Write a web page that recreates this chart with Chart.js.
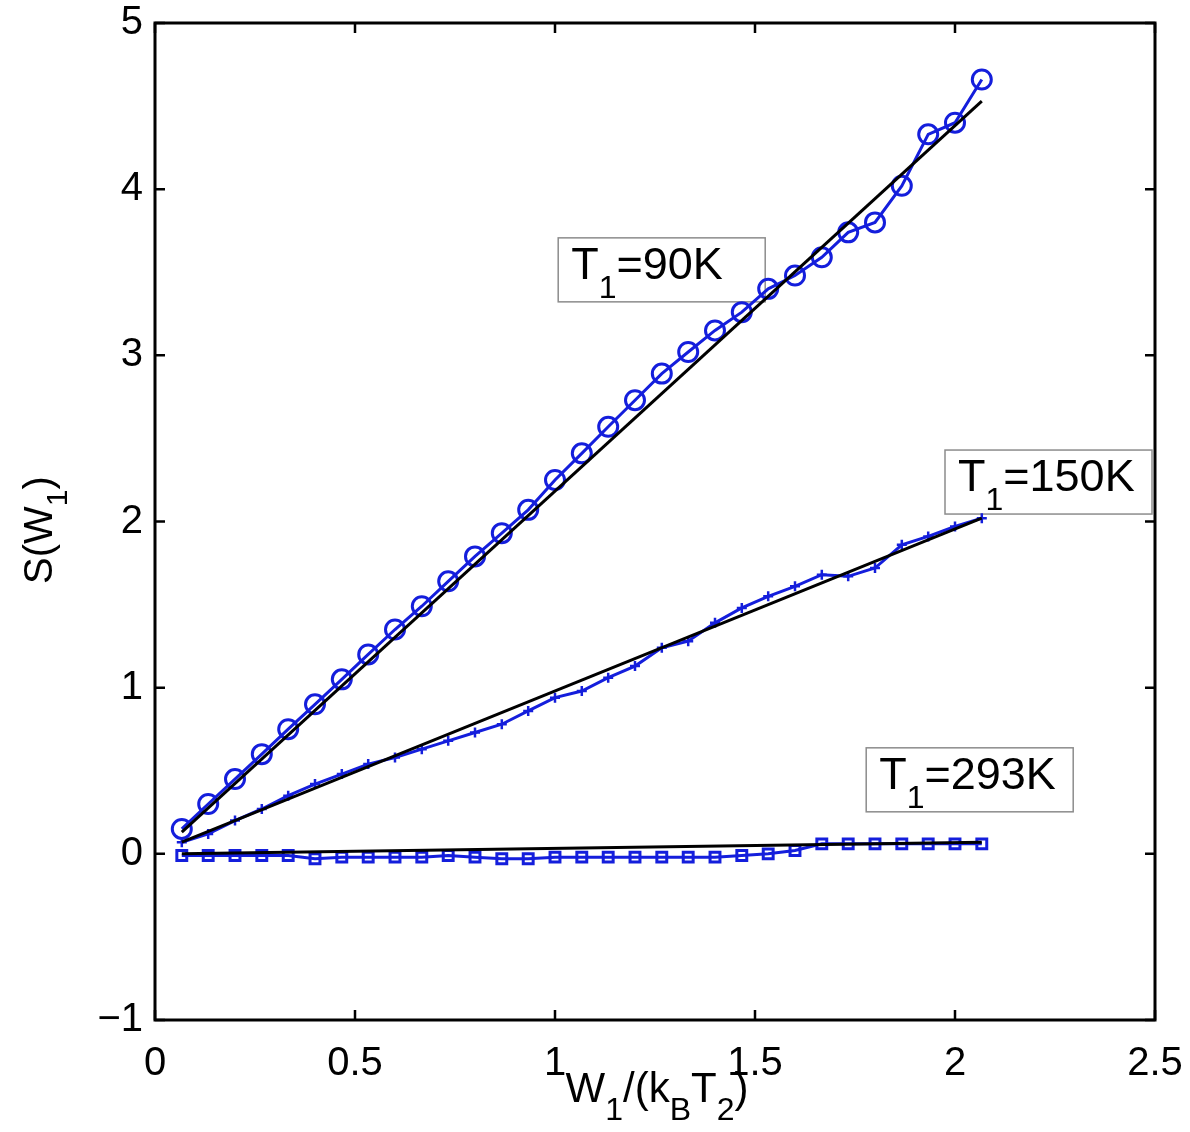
<!DOCTYPE html>
<html>
<head>
<meta charset="utf-8">
<script src="https://cdn.jsdelivr.net/npm/chart.js@4.4.0/dist/chart.umd.min.js"></script>
<style>
html,body{margin:0;padding:0;background:#fff;}
#wrap{width:1190px;height:1132px;}
</style>
</head>
<body>
<div id="wrap"><canvas id="c" width="1190" height="1132"></canvas></div>
<script>
// ---- data ----
const xValues = [0.067,0.133,0.200,0.267,0.333,0.400,0.467,0.533,0.600,0.667,0.733,0.800,0.867,0.933,1.000,1.067,1.133,1.200,1.267,1.333,1.400,1.467,1.533,1.600,1.667,1.733,1.800,1.867,1.933,2.000,2.067];
const s90K  = [0.15,0.30,0.45,0.60,0.75,0.90,1.05,1.20,1.35,1.49,1.64,1.79,1.93,2.07,2.25,2.41,2.57,2.73,2.89,3.02,3.15,3.26,3.40,3.48,3.59,3.74,3.80,4.02,4.33,4.40,4.66];
const s150K = [0.07,0.12,0.20,0.27,0.35,0.42,0.48,0.54,0.58,0.63,0.68,0.73,0.78,0.86,0.94,0.98,1.06,1.13,1.24,1.28,1.39,1.48,1.55,1.61,1.68,1.67,1.72,1.86,1.91,1.97,2.02];
const s293K = [-0.01,-0.01,-0.01,-0.01,-0.01,-0.03,-0.02,-0.02,-0.02,-0.02,-0.01,-0.02,-0.03,-0.03,-0.02,-0.02,-0.02,-0.02,-0.02,-0.02,-0.02,-0.01,0.00,0.02,0.06,0.06,0.06,0.06,0.06,0.06,0.06];
const fitX    = [0.067, 2.067];
const fit90K  = [0.13, 4.53];
const fit150K = [0.07, 2.02];
const fit293K = [0.00, 0.07];
const xTicks = [0, 0.5, 1, 1.5, 2, 2.5];
const yTicks = [-1, 0, 1, 2, 3, 4, 5];
const labels = [
  {name:'90K',  x:1.008, y:3.707},
  {name:'150K', x:1.975, y:2.43},
  {name:'293K', x:1.778, y:0.638}
];

const FONT = '"Liberation Sans", Arial, Helvetica, sans-serif';
const BLUE = 'rgb(20,30,220)';
const pts = (xs, ys) => xs.map((x, i) => ({x: x, y: ys[i]}));

function richWidth(ctx, segs, size, subSize){
  let w = 0;
  segs.forEach(s => { ctx.font = (s.sub ? subSize : size) + 'px ' + FONT; w += ctx.measureText(s.t).width; });
  return w;
}
function drawRich(ctx, segs, x, y, size, subSize, subDrop){
  let cx = x;
  segs.forEach(s => {
    ctx.font = (s.sub ? subSize : size) + 'px ' + FONT;
    ctx.fillText(s.t, cx, s.sub ? y + subDrop : y);
    cx += ctx.measureText(s.t).width;
  });
}

const annot = {
  id: 'annot',
  beforeDatasetsDraw(chart){
    const ctx = chart.ctx;
    const xs = chart.scales.x, ys = chart.scales.y;
    ctx.save();
    ctx.textBaseline = 'alphabetic';
    ctx.textAlign = 'left';
    labels.forEach(l => {
      const bx = xs.getPixelForValue(l.x), by = ys.getPixelForValue(l.y);
      const segs = [{t:'T'},{t:'1',sub:true},{t:'='+l.name}];
      const w = richWidth(ctx, segs, 45, 32);
      const bw = Math.max(w + 30, 207), bh = 64;
      ctx.strokeStyle = '#8c8c8c';
      ctx.lineWidth = 1.5;
      ctx.strokeRect(bx, by, bw, bh);
      ctx.fillStyle = '#000';
      drawRich(ctx, segs, bx + 13, by + 41, 45, 32, 19);
    });
    ctx.restore();
  }
};

const frame = {
  id: 'frame',
  afterDatasetsDraw(chart){
    const ctx = chart.ctx, a = chart.chartArea;
    const xs = chart.scales.x, ys = chart.scales.y;
    ctx.save();
    ctx.strokeStyle = '#000';
    ctx.lineWidth = 3;
    ctx.strokeRect(a.left, a.top, a.right - a.left, a.bottom - a.top);
    ctx.lineWidth = 2.5;
    const L = 10;
    xTicks.forEach(v => {
      const px = xs.getPixelForValue(v);
      ctx.beginPath();
      ctx.moveTo(px, a.bottom); ctx.lineTo(px, a.bottom - L);
      ctx.moveTo(px, a.top); ctx.lineTo(px, a.top + L);
      ctx.stroke();
    });
    yTicks.forEach(v => {
      const py = ys.getPixelForValue(v);
      ctx.beginPath();
      ctx.moveTo(a.left, py); ctx.lineTo(a.left + L, py);
      ctx.moveTo(a.right, py); ctx.lineTo(a.right - L, py);
      ctx.stroke();
    });
    // axis titles
    ctx.fillStyle = '#000';
    ctx.textBaseline = 'alphabetic';
    ctx.textAlign = 'left';
    const xt = [{t:'W'},{t:'1',sub:true},{t:'/(k'},{t:'B',sub:true},{t:'T'},{t:'2',sub:true},{t:')'}];
    const xw = richWidth(ctx, xt, 42, 32);
    drawRich(ctx, xt, 657 - xw/2, 1102, 42, 32, 18);
    ctx.translate(52, 530);
    ctx.rotate(-Math.PI/2);
    const yt = [{t:'S(W'},{t:'1',sub:true},{t:')'}];
    const yw = richWidth(ctx, yt, 40, 30);
    drawRich(ctx, yt, -yw/2, 0, 40, 30, 15);
    ctx.restore();
  }
};

new Chart(document.getElementById('c'), {
  type: 'scatter',
  data: {
    datasets: [
      {label:'fit 90K',  data: pts(fitX, fit90K),  showLine:true, borderColor:'#000', borderWidth:3, pointRadius:0},
      {label:'fit 150K', data: pts(fitX, fit150K), showLine:true, borderColor:'#000', borderWidth:3, pointRadius:0},
      {label:'fit 293K', data: pts(fitX, fit293K), showLine:true, borderColor:'#000', borderWidth:3, pointRadius:0},
      {label:'T1=90K',  data: pts(xValues, s90K),  showLine:true, borderColor:BLUE, borderWidth:3,
        pointStyle:'circle', pointRadius:9.5, pointBorderWidth:3, pointBorderColor:BLUE, pointBackgroundColor:'rgba(0,0,0,0)'},
      {label:'T1=150K', data: pts(xValues, s150K), showLine:true, borderColor:BLUE, borderWidth:3,
        pointStyle:'cross', pointRadius:5, pointBorderWidth:2.5, pointBorderColor:BLUE},
      {label:'T1=293K', data: pts(xValues, s293K), showLine:true, borderColor:BLUE, borderWidth:3,
        pointStyle:'rect', pointRadius:7, pointBorderWidth:3, pointBorderColor:BLUE, pointBackgroundColor:'rgba(0,0,0,0)'}
    ]
  },
  options: {
    responsive: false,
    animation: false,
    events: [],
    layout: {padding: {left: 0, top: 23, right: 35, bottom: 0}},
    plugins: {legend: {display: false}, tooltip: {enabled: false}},
    scales: {
      x: {
        type: 'linear', min: 0, max: 2.5,
        afterBuildTicks: s => { s.ticks = xTicks.map(v => ({value: v})); },
        afterFit: s => { s.height = 112; s.paddingLeft = 0; s.paddingRight = 0; },
        grid: {display: false, drawTicks: false},
        border: {display: false},
        ticks: {color: '#000', font: {family: FONT, size: 40}, padding: 20, maxRotation: 0,
          callback: v => String(v)}
      },
      y: {
        type: 'linear', min: -1, max: 5,
        afterBuildTicks: s => { s.ticks = yTicks.map(v => ({value: v})); },
        afterFit: s => { s.width = 155; s.paddingTop = 0; s.paddingBottom = 0; },
        grid: {display: false, drawTicks: false},
        border: {display: false},
        ticks: {color: '#000', font: {family: FONT, size: 40}, padding: 12,
          callback: v => String(v).replace('-', '\u2212')}
      }
    }
  },
  plugins: [annot, frame]
});
</script>
</body>
</html>
